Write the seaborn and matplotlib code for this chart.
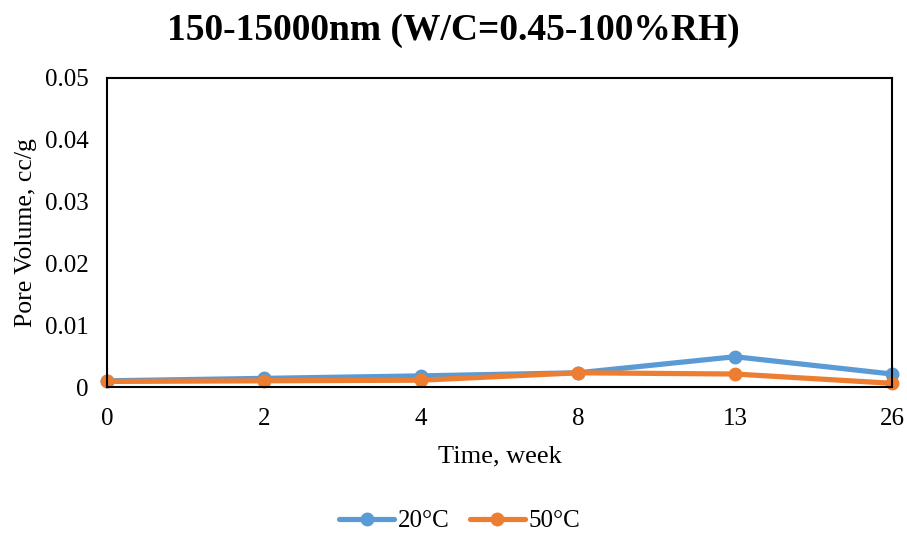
import matplotlib
matplotlib.use("Agg")
import matplotlib.pyplot as plt
import seaborn as sns
import pandas as pd
from matplotlib.lines import Line2D

weeks = ["0", "2", "4", "8", "13", "26"]
v20 = [0.0010, 0.0014, 0.0018, 0.0023, 0.0049, 0.0021]
v50 = [0.0009, 0.0010, 0.0011, 0.0023, 0.0021, 0.0006]
series = ["20°C", "50°C"]
colors = ["#5B9BD5", "#ED7D31"]

rows = []
for name, vals in zip(series, [v20, v50]):
    for i, v in enumerate(vals):
        rows.append({"pos": i, "val": v, "series": name})
df = pd.DataFrame(rows)

sns.set_style("white")
plt.rcParams['font.family'] = ['Liberation Serif', 'DejaVu Serif']
plt.rcParams['text.color'] = 'black'
plt.rcParams['axes.labelcolor'] = 'black'

fig = plt.figure(figsize=(9.07, 5.35), dpi=100)
ax = fig.add_axes([107/907, 1-387/535, (892-107)/907, (387-78)/535])

sns.lineplot(data=df, x="pos", y="val", hue="series", palette=colors,
             marker="o", markersize=10, linewidth=3.75, markeredgewidth=0,
             ax=ax, legend=False, clip_on=False)

ax.set_xlim(0, len(weeks)-1)
ax.set_ylim(0, 0.05)
ax.set_xticks(range(len(weeks)))
ax.set_xticklabels(weeks)
ax.set_yticks([0, 0.01, 0.02, 0.03, 0.04, 0.05])
ax.set_yticklabels(["0", "0.01", "0.02", "0.03", "0.04", "0.05"])
ax.tick_params(axis='both', labelsize=18, direction='out', length=6, width=1.2,
               colors='black', labelcolor='black')
ax.tick_params(axis='y', pad=7)
ax.tick_params(axis='x', pad=9)
for s in ax.spines.values():
    s.set_visible(True)
    s.set_color('black')
    s.set_linewidth(1.5)
ax.set_xlabel("Time, week", fontsize=19, labelpad=11)
ax.set_ylabel("Pore Volume, cc/g", fontsize=18.5, labelpad=6)

fig.text(0.5, 1 - 30/535, "150-15000nm (W/C=0.45-100%RH)", fontsize=27,
         fontweight='bold', ha='center', va='center')

handles = [Line2D([0], [0], color=c, lw=3.75, marker='o', markersize=10, markeredgewidth=0) for c in colors]
leg = fig.legend(handles, series, loc='center', ncol=2,
                 frameon=False, fontsize=18, handlelength=2.2, columnspacing=0.8, handletextpad=0.16)
leg.set_bbox_to_anchor((0.507, 1 - 521/535), transform=fig.transFigure)

fig.savefig("out.png", dpi=100)
